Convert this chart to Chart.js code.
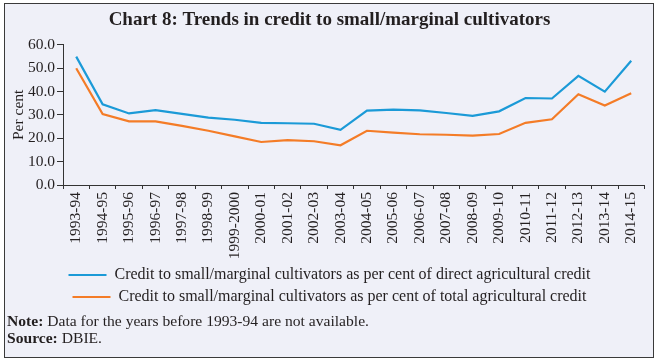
<!DOCTYPE html>
<html>
<head>
<meta charset="utf-8">
<script src="https://cdn.jsdelivr.net/npm/chart.js@4"></script>
<style>
    body { margin: 0; background: #ffffff; }
    #frame {
        position: absolute; left: 4px; top: 3px;
        width: 648px; height: 353px;
        border: 1px solid #3a3a3a;
        background: #eff0f8;
        font-family: "Liberation Serif", serif;
        color: #231f20;
    }
    #frame canvas { position: absolute; left: 0; top: 0; }
    .note { position: absolute; left: 2px; font-size: 15.6px; line-height: 18px; white-space: nowrap; }
</style>
</head>
<body>
<div id="frame">
    <canvas id="lineChart" width="648" height="311"></canvas>
    <div class="note" style="top: 308px;"><b>Note:</b> Data for the years before 1993-94 are not available.</div>
    <div class="note" style="top: 325px;"><b>Source:</b> DBIE.</div>
</div>
<script>
// Data
const years = ['1993-94', '1994-95', '1995-96', '1996-97', '1997-98', '1998-99', '1999-2000',
    '2000-01', '2001-02', '2002-03', '2003-04', '2004-05', '2005-06', '2006-07', '2007-08',
    '2008-09', '2009-10', '2010-11', '2011-12', '2012-13', '2013-14', '2014-15'];

const directShare = [54.9, 34.5, 30.6, 32.0, 30.4, 28.8, 27.9, 26.6, 26.4, 26.2, 23.6,
    31.8, 32.2, 31.9, 30.8, 29.6, 31.5, 37.2, 37.0, 46.7, 39.9, 53.1];

const totalShare = [49.9, 30.3, 27.2, 27.2, 25.3, 23.2, 20.8, 18.4, 19.2, 18.7, 17.0,
    23.2, 22.4, 21.7, 21.5, 21.1, 21.8, 26.6, 28.1, 38.8, 34.0, 39.2];

const yTicks = [0, 10, 20, 30, 40, 50, 60];

const seriesNames = [
    'Credit to small/marginal cultivators as per cent of direct agricultural credit',
    'Credit to small/marginal cultivators as per cent of total agricultural credit'
];

const blue = '#1b9ad7';
const orange = '#f47c27';
const ink = '#231f20';

Chart.defaults.font.family = '"Liberation Serif", "Times New Roman", serif';
Chart.defaults.color = ink;

const ctx = document.getElementById('lineChart').getContext('2d');

// Line chart data
const data = {
    labels: years,
    datasets: [{
        label: seriesNames[0],
        data: directShare,
        borderColor: blue,
        backgroundColor: blue,
        borderWidth: 2.2,
        pointRadius: 0,
        tension: 0
    }, {
        label: seriesNames[1],
        data: totalShare,
        borderColor: orange,
        backgroundColor: orange,
        borderWidth: 2.2,
        pointRadius: 0,
        tension: 0
    }]
};

// Line chart options
const options = {
    responsive: false,
    animation: false,
    layout: { padding: { left: 9, right: 8, top: 0, bottom: 0 } },
    plugins: {
        title: {
            display: true,
            text: 'Chart 8: Trends in credit to small/marginal cultivators',
            font: { size: 19, weight: 'bold' },
            color: ink,
            padding: { top: 4.6, bottom: 13.3 }
        },
        legend: {
            position: 'bottom',
            labels: {
                boxWidth: 38,
                boxHeight: 0,
                padding: 6,
                font: { size: 16 },
                color: ink
            }
        },
        tooltip: { enabled: false }
    },
    scales: {
        x: {
            offset: true,
            grid: {
                offset: true,
                drawOnChartArea: false,
                tickLength: 4,
                color: '#333333'
            },
            border: { color: '#333333', width: 1 },
            ticks: {
                autoSkip: false,
                minRotation: 90,
                maxRotation: 90,
                padding: 3,
                font: { size: 15.5 },
                color: ink
            },
            // tall enough that "1999-2000" is not clipped
            afterFit: scale => { scale.height = 76; }
        },
        y: {
            min: 0,
            max: 60,
            afterBuildTicks: scale => { scale.ticks = yTicks.map(v => ({ value: v })); },
            grid: {
                drawOnChartArea: false,
                tickLength: 6,
                color: '#333333'
            },
            border: { color: '#333333', width: 1 },
            ticks: {
                padding: 2,
                font: { size: 15.5 },
                color: ink,
                callback: value => value.toFixed(1)
            },
            title: {
                display: true,
                text: 'Per cent',
                font: { size: 15.5 },
                color: ink,
                padding: { top: -4, bottom: 0 }
            },
            afterFit: scale => { scale.width = 49; }
        }
    }
};

// Create the line chart
window.myLineChart = new Chart(ctx, {
    type: 'line',
    data: data,
    options: options
});
</script>
</body>
</html>
